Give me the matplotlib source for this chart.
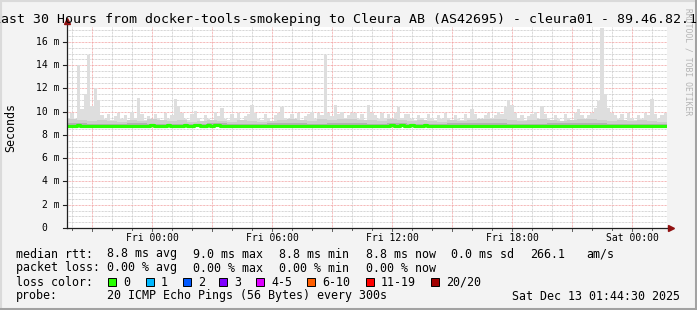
import matplotlib
matplotlib.use("Agg")
import matplotlib.pyplot as plt
from matplotlib.patches import Rectangle
from matplotlib.lines import Line2D
import numpy as np

# ========= data (ms), hours relative to Fri 00:00 ============
t_start = -4.2583      # Thu 19:44:30
t_end = 25.7417        # Sat 01:44:30

# 10 minute samples: max ping of the 20 and the median
ping_max = [
    9.5, 9.9, 9.3, 14.0, 10.2, 11.5, 14.9, 10.5, 12.0, 11.0, 9.7, 9.4,
    9.8, 9.3, 9.6, 9.9, 9.4, 9.7, 9.3, 10.0, 9.5, 11.2, 9.8, 9.3,
    9.6, 9.2, 9.8, 9.5, 9.3, 9.9, 9.4, 9.7, 11.1, 10.5, 9.9, 9.4,
    9.3, 9.8, 10.1, 9.5, 9.2, 9.7, 9.4, 9.3, 10.0, 9.6, 10.3, 9.4,
    9.3, 9.8, 9.5, 9.9, 9.2, 9.6, 9.8, 10.6, 9.9, 9.4, 9.3, 9.8,
    9.5, 9.2, 9.7, 9.9, 10.4, 9.5, 9.3, 9.8, 9.4, 9.9, 9.3, 9.6,
    9.8, 10.0, 9.4, 9.9, 9.7, 14.9, 9.9, 9.6, 10.6, 9.8, 10.0, 9.5,
    9.7, 9.9, 9.9, 9.4, 9.8, 9.3, 10.6, 9.9, 9.7, 9.4, 9.9, 9.5,
    9.8, 9.4, 9.9, 10.4, 9.5, 9.8, 9.8, 9.4, 9.3, 9.7, 9.5, 9.3,
    9.8, 9.5, 9.3, 9.7, 9.4, 9.9, 9.5, 9.2, 9.7, 9.4, 9.3, 9.8,
    9.5, 10.2, 9.8, 9.4, 9.3, 9.7, 9.9, 9.5, 9.7, 10.0, 9.8, 10.4,
    11.0, 10.6, 9.9, 9.5, 9.7, 9.3, 9.6, 9.8, 10.0, 9.4, 10.5, 9.8,
    9.5, 9.3, 9.7, 9.4, 9.2, 9.8, 9.5, 9.3, 9.9, 10.2, 9.7, 9.4,
    9.7, 9.9, 10.3, 10.9, 17.2, 11.5, 10.3, 9.9, 9.7, 9.4, 9.8, 9.3,
    9.9, 9.5, 9.3, 9.7, 9.4, 9.9, 9.7, 11.1, 9.8, 9.4, 9.7, 9.9,
]
ping_median = [
    8.80, 8.78, 8.80, 8.82, 8.79, 8.80, 8.81, 8.78, 8.80, 8.79, 8.80, 8.78,
    8.79, 8.80, 8.78, 8.77, 8.79, 8.80, 8.78, 8.79, 8.81, 8.80, 8.78, 8.79,
    8.80, 8.82, 8.80, 8.79, 8.81, 8.80, 8.82, 8.80, 8.79, 8.81, 8.80, 8.82,
    8.81, 8.80, 8.82, 8.83, 8.81, 8.80, 8.82, 8.81, 8.83, 8.82, 8.80, 8.81,
    8.80, 8.78, 8.79, 8.80, 8.78, 8.79, 8.80, 8.79, 8.78, 8.80, 8.79, 8.78,
    8.79, 8.80, 8.78, 8.79, 8.80, 8.78, 8.79, 8.80, 8.79, 8.78, 8.80, 8.79,
    8.78, 8.79, 8.80, 8.78, 8.79, 8.80, 8.81, 8.79, 8.78, 8.80, 8.79, 8.78,
    8.79, 8.80, 8.78, 8.79, 8.80, 8.79, 8.78, 8.80, 8.79, 8.78, 8.79, 8.80,
    8.81, 8.82, 8.80, 8.81, 8.82, 8.80, 8.81, 8.82, 8.80, 8.81, 8.80, 8.82,
    8.81, 8.80, 8.79, 8.80, 8.81, 8.80, 8.79, 8.80, 8.81, 8.79, 8.80, 8.81,
    8.80, 8.79, 8.78, 8.80, 8.79, 8.78, 8.79, 8.80, 8.78, 8.79, 8.80, 8.78,
    8.79, 8.78, 8.80, 8.79, 8.78, 8.79, 8.80, 8.81, 8.79, 8.80, 8.79, 8.78,
    8.79, 8.80, 8.78, 8.77, 8.79, 8.78, 8.79, 8.80, 8.78, 8.79, 8.78, 8.77,
    8.78, 8.79, 8.78, 8.80, 8.79, 8.78, 8.79, 8.80, 8.78, 8.79, 8.78, 8.79,
    8.78, 8.79, 8.78, 8.77, 8.78, 8.79, 8.78, 8.77, 8.79, 8.78, 8.77, 8.78,
]
# half-hourly 90th percentile of the pings
ping_p90 = [
    9.35, 9.25, 9.20, 9.30, 9.20, 9.15, 9.30, 9.20, 9.35, 9.25,
    9.20, 9.30, 9.15, 9.20, 9.30, 9.20, 9.15, 9.30, 9.20, 9.15,
    9.20, 9.30, 9.35, 9.25, 9.20, 9.35, 9.30, 9.40, 9.35, 9.25,
    9.30, 9.20, 9.35, 9.25, 9.20, 9.30, 9.20, 9.15, 9.30, 9.20,
    9.30, 9.35, 9.40, 9.35, 9.25, 9.20, 9.30, 9.35, 9.25, 9.20,
    9.30, 9.35, 9.40, 9.30, 9.20, 9.30, 9.20, 9.25, 9.20, 9.15,
]
# hourly 75th percentile and minimum
ping_p75 = [
    9.02, 8.98, 8.95, 9.00, 8.95, 8.98, 8.95, 9.00, 8.95, 8.95,
    9.00, 9.02, 8.98, 9.02, 9.00, 8.95, 9.00, 8.95, 8.98, 9.02,
    9.00, 9.02, 8.98, 8.95, 9.00, 9.02, 9.00, 8.95, 8.98, 8.95,
]
ping_min = [
    8.68, 8.67, 8.66, 8.68, 8.67, 8.66, 8.67, 8.68, 8.66, 8.67,
    8.68, 8.67, 8.66, 8.67, 8.68, 8.67, 8.66, 8.67, 8.68, 8.67,
    8.66, 8.67, 8.68, 8.66, 8.67, 8.66, 8.67, 8.66, 8.67, 8.66,
]

stats_rtt = ["8.8 ms avg", "9.0 ms max", "8.8 ms min", "8.8 ms now", "0.0 ms sd", "266.1", "am/s"]
stats_loss = ["0.00 % avg", "0.00 % max", "0.00 % min", "0.00 % now"]
loss_labels = ["0", "1", "2", "3", "4-5", "6-10", "11-19", "20/20"]
loss_colors = ["#26ff00", "#00b8ff", "#0059ff", "#7e00ff", "#dd00ff", "#ff5e00", "#ff0000", "#a10000"]
x_tick_hours = [0, 6, 12, 18, 24]
x_tick_labels = ["Fri 00:00", "Fri 06:00", "Fri 12:00", "Fri 18:00", "Sat 00:00"]
y_ticks = [0, 2, 4, 6, 8, 10, 12, 14, 16]

# ========= figure ============
W, H = 697, 310
fig = plt.figure(figsize=(W / 100, H / 100), dpi=100, facecolor="#f3f3f3")
mono = "DejaVu Sans Mono"

ax = fig.add_axes([67 / W, (H - 228) / H, 600 / W, (228 - 27) / H])
ax.set_facecolor("white")
ax.set_xlim(t_start, t_end)
ax.set_ylim(0, 17.29)
for s in ax.spines.values():
    s.set_visible(False)
ax.set_xticks([])
ax.set_yticks([])

dots = (0, (0.72, 0.72))
# grid
for v in np.arange(0.5, 17.3, 0.5):
    if v % 2 == 0:
        ax.axhline(v, color="#f2a0a0", lw=0.72, ls=dots, zorder=1)
    else:
        ax.axhline(v, color="#c8c8c8", lw=0.72, ls=dots, zorder=0.5)
for h in range(int(np.ceil(t_start)), int(t_end) + 1):
    if h % 3 == 0:
        ax.axvline(h, color="#f2a0a0", lw=0.72, ls=dots, zorder=1)
    else:
        ax.axvline(h, color="#c8c8c8", lw=0.72, ls=dots, zorder=0.5)

# smoke
t10 = t_start + np.arange(len(ping_max)) / 6
t30 = t_start + np.arange(len(ping_p90)) / 2
t60 = t_start + np.arange(len(ping_p75))
edges10 = np.append(t10, t_end)
edges30 = np.append(t30, t_end)
edges60 = np.append(t60, t_end)
mx = np.append(ping_max, ping_max[-1])
md = np.append(ping_median, ping_median[-1])
p90 = np.append(ping_p90, ping_p90[-1])
p75 = np.append(ping_p75, ping_p75[-1])
mn = np.append(ping_min, ping_min[-1])

ax.fill_between(edges60, mn, 8.9, step="post", color="#dedede", lw=0, zorder=2)
ax.fill_between(edges10, 8.7, mx, step="post", color="#dedede", lw=0, zorder=2)
ax.fill_between(edges30, 8.75, p90, step="post", color="#cdcdcd", lw=0, zorder=3)
ax.fill_between(edges60, 8.8, p75, step="post", color="#b2b2b2", lw=0, zorder=4)
ax.step(edges10, md, where="post", color=loss_colors[0], lw=2.3, zorder=5)

# axes lines and arrows
ax.plot([0, 1.004], [0, 0], transform=ax.transAxes, color="#202020", lw=0.9, clip_on=False, zorder=6)
ax.plot([0, 0], [0, 1.01], transform=ax.transAxes, color="#202020", lw=0.9, clip_on=False, zorder=6)
ax.plot([1.006], [0], marker=">", ms=4.5, color="#901010", transform=ax.transAxes, clip_on=False, zorder=7)
ax.plot([0], [1.03], marker="^", ms=4.5, color="#901010", transform=ax.transAxes, clip_on=False, zorder=7)

# ticks
ytr = ax.get_yaxis_transform()
xtr = ax.get_xaxis_transform()
for v in y_ticks:
    ax.plot([-4 / 600, 0], [v, v], transform=ytr, color="#202020", lw=0.8, clip_on=False)
    lab = "0" if v == 0 else "%d m" % v
    xr = -20 / 600 if v == 0 else -7 / 600
    ax.text(xr, v, lab, transform=ytr, ha="right", va="center", family=mono, fontsize=7)
for h in range(int(np.ceil(t_start)), int(t_end) + 1):
    ln = 3 if h % 3 == 0 else 2
    ax.plot([h, h], [0, -ln / 201], transform=xtr, color="#606060", lw=0.7, clip_on=False)
for h, lab in zip(x_tick_hours, x_tick_labels):
    ax.text(h, -10 / 201, lab, transform=xtr, ha="center", va="center", family=mono, fontsize=7)

# texts in pixel coords
def ftext(x, y, s, **kw):
    kw.setdefault("family", mono)
    kw.setdefault("fontsize", 8.4)
    kw.setdefault("va", "center")
    fig.text(x / W, 1 - y / H, s, **kw)

ftext(349, 19, "Last 30 Hours from docker-tools-smokeping to Cleura AB (AS42695) - cleura01 - 89.46.82.16",
      ha="center", fontsize=9.5)
ftext(11, 127, "Seconds", ha="center", rotation=90)
ftext(688, 62, "RRDTOOL / TOBI OETIKER", ha="center", rotation=270, fontsize=5.8, color="#b4b4b4")

rows_y = [254, 268, 282, 296]
ftext(16, rows_y[0], "median rtt:")
for x, s in zip([107, 193, 279, 366, 451, 530, 586], stats_rtt):
    ftext(x, rows_y[0], s)
ftext(16, rows_y[1], "packet loss:")
for x, s in zip([107, 193, 279, 366], stats_loss):
    ftext(x, rows_y[1], s)
ftext(16, rows_y[2], "loss color:")
box_x = [108, 146, 183, 219, 256, 307, 366, 431]
for x, s, c in zip(box_x, loss_labels, loss_colors):
    fig.add_artist(Rectangle((x / W, 1 - 286 / H), 8 / W, 8 / H, transform=fig.transFigure,
                             facecolor=c, edgecolor="black", lw=0.7))
    ftext(x + 15, rows_y[2], s)
ftext(16, rows_y[3], "probe:")
ftext(107, rows_y[3], "20 ICMP Echo Pings (56 Bytes) every 300s")
ftext(680, rows_y[3], "Sat Dec 13 01:44:30 2025", ha="right")

# 3d border
fig.add_artist(Line2D([0, 1], [1 - 1 / H, 1 - 1 / H], transform=fig.transFigure, color="#dadada", lw=1.5))
fig.add_artist(Line2D([1 / W, 1 / W], [0, 1], transform=fig.transFigure, color="#dadada", lw=1.5))
fig.add_artist(Line2D([0, 1], [1.5 / H, 1.5 / H], transform=fig.transFigure, color="#a2a2a2", lw=2.2))
fig.add_artist(Line2D([1 - 1.5 / W, 1 - 1.5 / W], [0, 1], transform=fig.transFigure, color="#a2a2a2", lw=2.2))

fig.savefig("out.png", dpi=100, facecolor=fig.get_facecolor())
